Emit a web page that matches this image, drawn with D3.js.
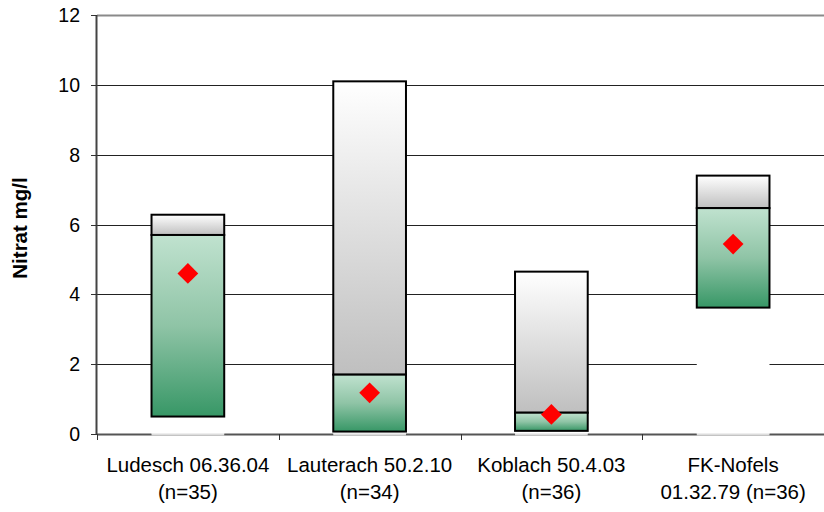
<!DOCTYPE html>
<html><head><meta charset="utf-8">
<script src="https://cdn.jsdelivr.net/npm/d3@7"></script>
<style>body{margin:0;background:#fff}svg{display:block}text{font-family:"Liberation Sans",Arial,sans-serif}</style>
</head><body><svg id="c" width="824" height="512"></svg>
<script>
const categories = ["Ludesch 06.36.04", "Lauterach 50.2.10", "Koblach 50.4.03", "FK-Nofels"];
const labelLine1 = ["Ludesch 06.36.04", "Lauterach 50.2.10", "Koblach 50.4.03", "FK-Nofels"];
const labelLine2 = ["(n=35)", "(n=34)", "(n=36)", "01.32.79 (n=36)"];
const minVals = [0.5, 0.07, 0.09, 3.62];
const medianVals = [5.7, 1.7, 0.61, 6.47];
const maxVals = [6.28, 10.1, 4.65, 7.4];
const meanVals = [4.6, 1.18, 0.56, 5.44];
const yTicks = [0, 2, 4, 6, 8, 10, 12];

const svg = d3.select("#c");
const L = 97, R = 824, T = 15, B = 434;
const x = d3.scaleBand().domain(categories).range([L, R]).paddingInner(0.6).paddingOuter(0.3);
const xc = d3.scaleBand().domain(categories).range([L, R]);
const y = d3.scaleLinear().domain([0, 12]).range([B, T]);

const defs = svg.append("defs");
const g1 = defs.append("linearGradient").attr("id","green").attr("x1",0).attr("y1",0).attr("x2",0).attr("y2",1);
g1.append("stop").attr("offset","0%").attr("stop-color","#c0e2cf");
g1.append("stop").attr("offset","50%").attr("stop-color","#8fc4a6");
g1.append("stop").attr("offset","100%").attr("stop-color","#379766");
const g2 = defs.append("linearGradient").attr("id","grey").attr("x1",0).attr("y1",0).attr("x2",0).attr("y2",1);
g2.append("stop").attr("offset","0%").attr("stop-color","#ffffff");
g2.append("stop").attr("offset","100%").attr("stop-color","#bfbfbf");

// gridlines
svg.append("g").selectAll("line").data(yTicks.filter(d => d > 0)).join("line")
  .attr("x1", L).attr("x2", R)
  .attr("y1", d => Math.round(y(d)) + 0.5).attr("y2", d => Math.round(y(d)) + 0.5)
  .attr("stroke", d => d === 12 ? "#8a8a8a" : "#222").attr("stroke-width", d => d === 12 ? 2 : 1);

// x axis line
svg.append("line").attr("x1", L).attr("x2", R).attr("y1", B + 0.5).attr("y2", B + 0.5)
  .attr("stroke", "#555").attr("stroke-width", 2);

// invisible base bars (white) covering grid
svg.append("g").selectAll("rect").data(categories).join("rect")
  .attr("x", d => x(d)).attr("width", x.bandwidth())
  .attr("y", (d, i) => y(minVals[i])).attr("height", (d, i) => y(0) - y(minVals[i]))
  .attr("fill", "#fff");
svg.append("g").selectAll("line").data(categories).join("line")
  .attr("x1", d => x(d)).attr("x2", d => x(d) + x.bandwidth())
  .attr("y1", B + 0.5).attr("y2", B + 0.5).attr("stroke", "#ddd").attr("stroke-width", 2);

// grey upper segments
svg.append("g").selectAll("rect").data(categories).join("rect")
  .attr("x", d => x(d)).attr("width", x.bandwidth())
  .attr("y", (d, i) => y(maxVals[i])).attr("height", (d, i) => y(medianVals[i]) - y(maxVals[i]))
  .attr("fill", "url(#grey)").attr("stroke", "#000").attr("stroke-width", 2);
// green lower segments
svg.append("g").selectAll("rect").data(categories).join("rect")
  .attr("x", d => x(d)).attr("width", x.bandwidth())
  .attr("y", (d, i) => y(medianVals[i])).attr("height", (d, i) => y(minVals[i]) - y(medianVals[i]))
  .attr("fill", "url(#green)").attr("stroke", "#000").attr("stroke-width", 2);

// mean diamonds
const sym = d3.symbol().type(d3.symbolSquare).size(215);
svg.append("g").selectAll("path").data(categories).join("path")
  .attr("d", sym)
  .attr("transform", (d, i) => `translate(${x(d) + x.bandwidth() / 2},${y(meanVals[i])}) rotate(45)`)
  .attr("fill", "#ff0000");

// y axis
svg.append("line").attr("x1", L - 0.5).attr("x2", L - 0.5).attr("y1", T).attr("y2", B + 1)
  .attr("stroke", "#444").attr("stroke-width", 2);
const ya = svg.append("g");
ya.selectAll("line").data(yTicks).join("line")
  .attr("x1", L - 6).attr("x2", L).attr("y1", d => Math.round(y(d)) + 0.5).attr("y2", d => Math.round(y(d)) + 0.5)
  .attr("stroke", "#333");
ya.selectAll("text").data(yTicks).join("text")
  .attr("x", 80).attr("y", d => y(d)).attr("dy", "0.36em").attr("text-anchor", "end")
  .attr("font-size", 19.5).attr("fill", "#000").text(d => d);

// x ticks between categories
svg.append("g").selectAll("line").data(categories).join("line")
  .attr("x1", d => Math.round(xc(d)) + 0.5).attr("x2", d => Math.round(xc(d)) + 0.5)
  .attr("y1", B).attr("y2", B + 6).attr("stroke", "#333");

// x labels
const xl = svg.append("g");
xl.selectAll("text.l1").data(categories).join("text").attr("class","l1")
  .attr("x", d => xc(d) + xc.bandwidth() / 2).attr("y", 472).attr("text-anchor", "middle")
  .attr("font-size", 20.5).text((d, i) => labelLine1[i]);
xl.selectAll("text.l2").data(categories).join("text").attr("class","l2")
  .attr("x", d => xc(d) + xc.bandwidth() / 2).attr("y", 499).attr("text-anchor", "middle")
  .attr("font-size", 20.5).text((d, i) => labelLine2[i]);

// y title
svg.append("text").attr("transform", `translate(27,228) rotate(-90)`)
  .attr("text-anchor", "middle").attr("font-size", 20.5).attr("font-weight", "bold").text("Nitrat mg/l");
</script></body></html>
